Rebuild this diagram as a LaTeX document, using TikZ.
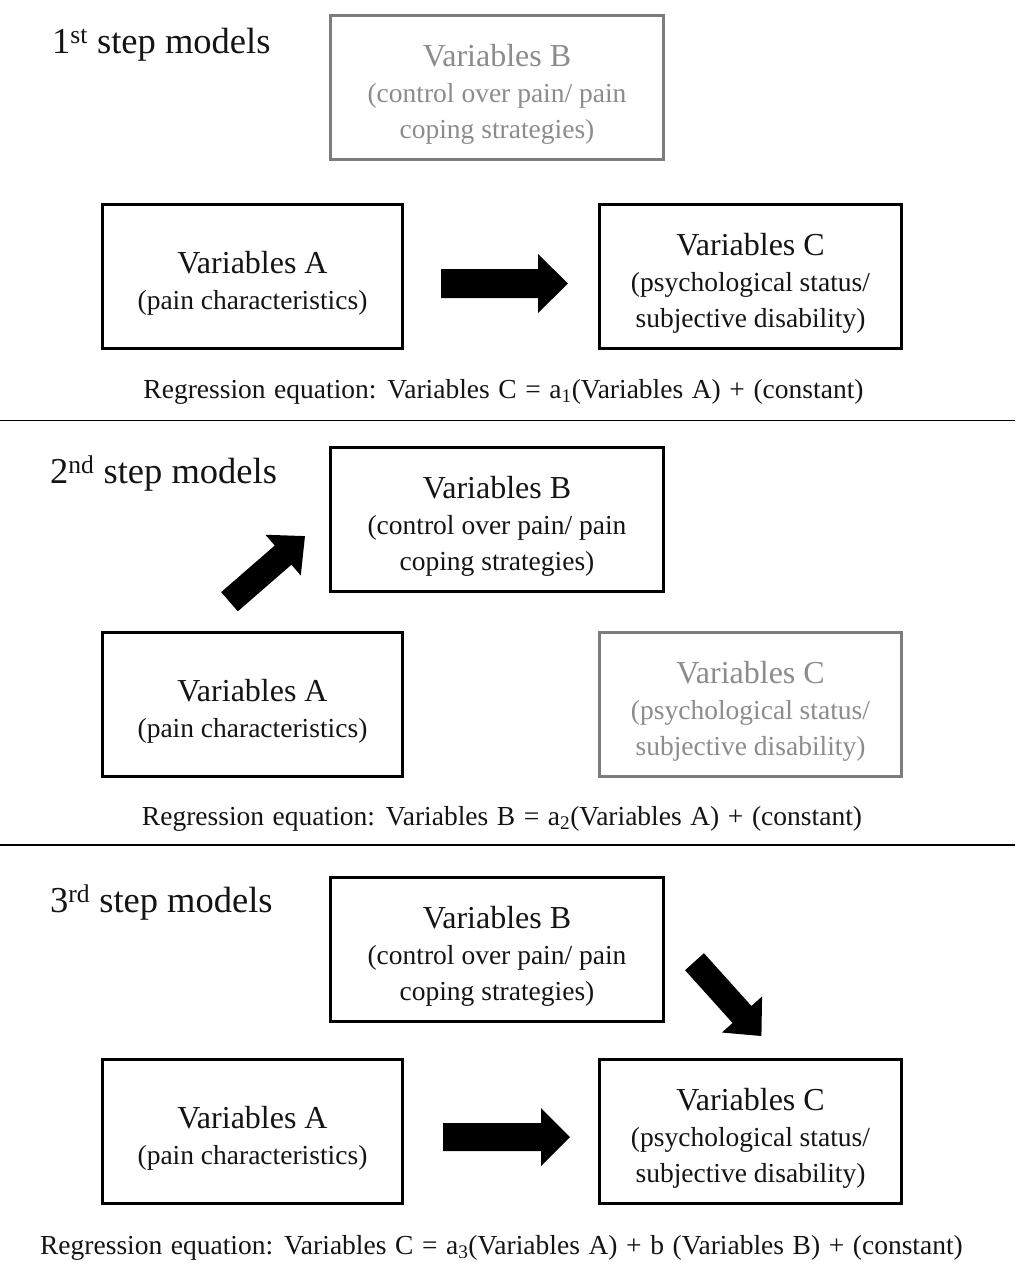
\documentclass[tikz,border=0pt]{standalone}
\usepackage{fontspec}
\setmainfont{Liberation Serif}
\definecolor{boxgray}{RGB}{125,125,125}
\definecolor{textgray}{RGB}{140,140,140}
\definecolor{ink}{RGB}{20,20,20}
\newcommand\mainln[1]{{\fontsize{32}{36}\selectfont\rule{0pt}{36pt}#1}}
\newcommand\eqsp{\spaceskip=8.6pt plus 2pt minus 1pt\relax}
\begin{document}
\begin{tikzpicture}[x=1pt,y=-1pt,
  box/.style={draw=black, line width=2.6pt, text=ink, align=center,
    font=\fontsize{27.5}{36}\selectfont, inner sep=0pt},
  boxA/.style={box, minimum width=300pt, minimum height=144pt},
  boxB/.style={box, minimum width=333pt, minimum height=144pt},
  boxC/.style={box, minimum width=302pt, minimum height=144pt},
  faded/.style={draw=boxgray, text=textgray},
  title/.style={anchor=base west, inner sep=0pt, text=ink, font=\fontsize{36.5}{40}\selectfont},
  eq/.style={anchor=base, inner sep=0pt, text=ink, font=\fontsize{27.5}{33}\selectfont},
  sep/.style={draw=black, line width=1.6pt},
  pics/blockarrow/.style n args={4}{code={
    \fill[black] (0,#2) -- ({#1-#4},#2) -- ({#1-#4},#3) -- (#1,0)
      -- ({#1-#4},-#3) -- ({#1-#4},-#2) -- (0,-#2) -- cycle;}}
]
\useasboundingbox (0,0) rectangle (1015,1280);
\fill[white] (0,0) rectangle (1015,1280);

% ---------- panel 1 ----------
\node[title] (t1) at (52,53) {1\textsuperscript{st} step models};
\node[boxB, faded] (b1) at (497,87.5) {\mainln{Variables B}\\(control over pain/ pain\\coping strategies)};
\node[boxA] (a1) at (252.5,276.5) {\mainln{Variables A}\\(pain characteristics)};
\node[boxC] (c1) at (750.5,276.5) {\mainln{Variables C}\\(psychological status/\\subjective disability)};
\pic (r1) at (441,283.5) {blockarrow={127}{14.5}{29.5}{30}};
\node[eq] (e1) at (503.5,398) {\eqsp Regression equation: Variables C = a\textsubscript{1}(Variables A) + (constant)};
\coordinate (s1l) at (0,420.5);
\coordinate (s1r) at (1015,420.5);
\draw[sep] (s1l) -- (s1r);

% ---------- panel 2 ----------
\node[title] (t2) at (50,483) {2\textsuperscript{nd} step models};
\node[boxB] (b2) at (497,519.5) {\mainln{Variables B}\\(control over pain/ pain\\coping strategies)};
\node[boxA] (a2) at (252.5,704.5) {\mainln{Variables A}\\(pain characteristics)};
\node[boxC, faded] (c2) at (750.5,704.5) {\mainln{Variables C}\\(psychological status/\\subjective disability)};
\pic[rotate=41] (d2) at (229.5,601.7) {blockarrow={100}{12.7}{27}{29}};
\node[eq] (e2) at (502,825) {\eqsp Regression equation: Variables B = a\textsubscript{2}(Variables A) + (constant)};
\coordinate (s2l) at (0,845);
\coordinate (s2r) at (1015,845);
\draw[sep] (s2l) -- (s2r);

% ---------- panel 3 ----------
\node[title] (t3) at (50,912) {3\textsuperscript{rd} step models};
\node[boxB] (b3) at (497,949.5) {\mainln{Variables B}\\(control over pain/ pain\\coping strategies)};
\node[boxA] (a3) at (252.5,1131.5) {\mainln{Variables A}\\(pain characteristics)};
\node[boxC] (c3) at (750.5,1131.5) {\mainln{Variables C}\\(psychological status/\\subjective disability)};
\pic (r3) at (443,1137) {blockarrow={127}{14}{29}{29}};
\pic[rotate=-48] (d3) at (694.5,961.7) {blockarrow={100}{12.7}{27}{29}};
\node[eq] (e3) at (501.5,1254) {\eqsp Regression equation: Variables C = a\textsubscript{3}(Variables A) + b (Variables B) + (constant)};
\end{tikzpicture}
\end{document}
